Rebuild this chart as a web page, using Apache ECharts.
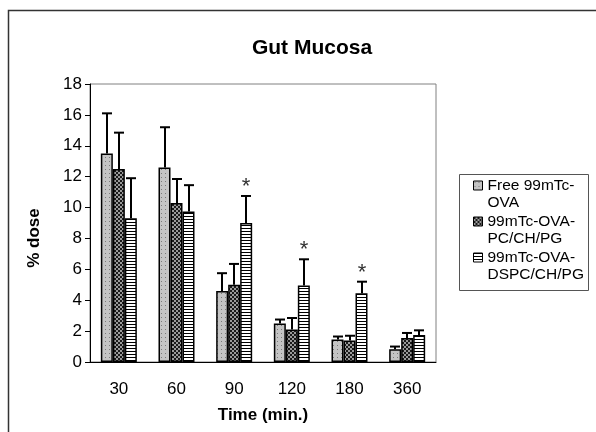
<!DOCTYPE html>
<html>
<head>
<meta charset="utf-8">
<script src="https://cdn.jsdelivr.net/npm/echarts@6/dist/echarts.min.js"></script>
<style>
  html, body { margin: 0; padding: 0; background: #fff; }
  #chart { width: 596px; height: 432px; }
</style>
</head>
<body>
<div id="chart"></div>
<script>
// categories and values
const times = ['30', '60', '90', '120', '180', '360']
const seriesNames = ['Free 99mTc-\nOVA', '99mTc-OVA-\nPC/CH/PG', '99mTc-OVA-\nDSPC/CH/PG']
const freeOva = [13.5, 12.6, 4.6, 2.5, 1.45, 0.82]
const pcChPg = [12.5, 10.3, 5.0, 2.1, 1.4, 1.55]
const dspcChPg = [9.3, 9.75, 9.0, 4.95, 4.45, 1.75]
// top of each error bar
const freeOvaErr = [16.1, 15.2, 5.75, 2.75, 1.65, 1.0]
const pcChPgErr = [14.85, 11.85, 6.35, 2.85, 1.7, 1.88]
const dspcChPgErr = [11.9, 11.45, 10.75, 6.65, 5.2, 2.05]
const significant = [false, false, true, true, true, false]
const yTicks = [0, 2, 4, 6, 8, 10, 12, 14, 16, 18]

const barW = 12
const font = 'Arial, "Liberation Sans"'

function makePattern(w, h, draw) {
    const c = document.createElement('canvas')
    c.width = w
    c.height = h
    draw(c.getContext('2d'))
    return { image: c, repeat: 'repeat' }
}

const dotted = makePattern(4, 4, ctx => {
    ctx.fillStyle = '#c4c4c4'
    ctx.fillRect(0, 0, 4, 4)
    ctx.fillStyle = '#7a7a7a'
    ctx.fillRect(1, 1, 1, 1)
})
const checker = makePattern(4, 4, ctx => {
    ctx.fillStyle = '#9a9a9a'
    ctx.fillRect(0, 0, 4, 4)
    ctx.fillStyle = '#1a1a1a'
    ctx.fillRect(0, 0, 2, 2)
    ctx.fillRect(2, 2, 2, 2)
})
const striped = makePattern(4, 3, ctx => {
    ctx.fillStyle = '#ffffff'
    ctx.fillRect(0, 0, 4, 3)
    ctx.fillStyle = '#000000'
    ctx.fillRect(0, 0, 4, 1)
})
const fills = [dotted, checker, striped]

const values = [freeOva, pcChPg, dspcChPg]
const errs = [freeOvaErr, pcChPgErr, dspcChPgErr]

const barSeries = values.map((vals, i) => ({
    name: seriesNames[i],
    type: 'bar',
    barWidth: barW,
    barGap: '0%',
    data: vals,
    itemStyle: { color: fills[i], borderColor: '#000', borderWidth: 1.5 },
    z: 2,
}))

const errSeries = values.map((vals, i) => ({
    type: 'custom',
    silent: true,
    z: 1,
    data: vals.map((v, k) => [k, v, errs[i][k], significant[k] && i === 2 ? 1 : 0]),
    renderItem(params, api) {
        const base = api.coord([api.value(0), api.value(1)])
        const top = api.coord([api.value(0), api.value(2)])
        const x = Math.round(base[0] + (i - 1) * barW)
        const children = [
            { type: 'line', shape: { x1: x, y1: base[1], x2: x, y2: top[1] }, style: { stroke: '#000', lineWidth: 2 } },
            { type: 'line', shape: { x1: x - 5, y1: top[1], x2: x + 5, y2: top[1] }, style: { stroke: '#000', lineWidth: 2 } },
        ]
        if (api.value(3)) {
            children.push({
                type: 'text',
                style: {
                    text: '*', x: x, y: top[1] + 2,
                    align: 'center', verticalAlign: 'bottom',
                    font: '22px ' + font, fill: '#333',
                },
            })
        }
        return { type: 'group', children }
    },
}))

const chart = echarts.init(document.getElementById('chart'))
chart.setOption({
    animation: false,
    backgroundColor: '#fff',
    title: {
        text: 'Gut Mucosa',
        left: 307,
        textAlign: 'center',
        top: 33,
        textStyle: { fontFamily: font, fontWeight: 'bold', fontSize: 21, color: '#000' },
    },
    graphic: [
        { type: 'rect', shape: { x: 8.5, y: 10.5, width: 700, height: 700 }, style: { fill: null, stroke: '#333', lineWidth: 1.5 }, silent: true },
        { type: 'rect', shape: { x: 459.5, y: 174.5, width: 129, height: 116 }, style: { fill: '#fff', stroke: '#555', lineWidth: 1 }, silent: true, z: -1 },
    ],
    legend: {
        orient: 'vertical',
        left: 473,
        top: 160,
        icon: 'rect',
        itemWidth: 9,
        itemHeight: 9,
        itemGap: -15,
        padding: 0,
        data: seriesNames,
        formatter: name => '\n' + name,
        textStyle: { fontFamily: font, fontSize: 15.5, lineHeight: 17, color: '#000' },
        itemStyle: { borderColor: '#000', borderWidth: 1 },
    },
    grid: { left: 90, top: 84, right: 160, bottom: 70, show: true, borderColor: '#808080', borderWidth: 1 },
    xAxis: {
        type: 'category',
        data: times,
        name: 'Time (min.)',
        nameLocation: 'middle',
        nameGap: 45,
        nameTextStyle: { fontFamily: font, fontWeight: 'bold', fontSize: 17, color: '#000' },
        axisLine: { lineStyle: { color: '#000', width: 1 } },
        axisTick: { length: 5, lineStyle: { color: '#000' } },
        axisLabel: { margin: 19, fontFamily: font, fontSize: 17, color: '#000' },
    },
    yAxis: {
        type: 'value',
        min: 0,
        max: 18,
        interval: 2,
        name: '% dose',
        nameLocation: 'middle',
        nameGap: 47,
        nameTextStyle: { fontFamily: font, fontWeight: 'bold', fontSize: 17, color: '#000', padding: [0, 30, 0, 0] },
        axisLine: { show: true, lineStyle: { color: '#000', width: 1 } },
        axisTick: { show: true, length: 5, lineStyle: { color: '#000' } },
        splitLine: { show: false },
        axisLabel: {
            margin: 8,
            fontFamily: font,
            fontSize: 17,
            color: '#000',
            formatter: v => (yTicks.includes(v) ? String(v) : ''),
        },
    },
    series: [...barSeries, ...errSeries],
})
</script>
</body>
</html>
